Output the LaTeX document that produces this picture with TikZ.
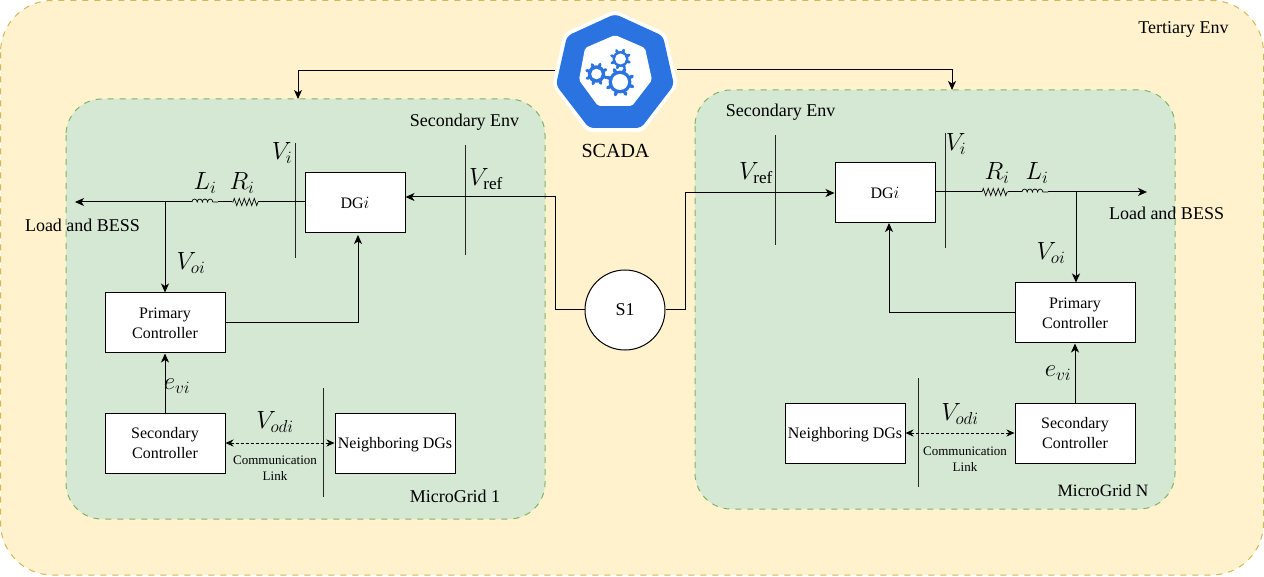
\documentclass[tikz,border=0pt]{standalone}
\usepackage{amsmath}
\usepackage{fontspec}
\setmainfont{Liberation Serif}
\usetikzlibrary{arrows.meta, decorations.pathmorphing}

\definecolor{envyellow}{HTML}{FFF2CC}
\definecolor{envyellowline}{HTML}{D6B656}
\definecolor{envgreen}{HTML}{D5E8D4}
\definecolor{envgreenline}{HTML}{82B366}
\definecolor{scadablue}{HTML}{2A73E0}

\tikzset{
  wire/.style={line width=1pt},
  sigwire/.style={wire, -{Stealth[length=9pt, width=8pt, inset=2.5pt]}},
  commwire/.style={line width=0.9pt, dashed, dash pattern=on 3pt off 2pt, {Stealth[length=8pt, width=7pt, inset=2.5pt]}-{Stealth[length=8pt, width=7pt, inset=2.5pt]}},
  busbar/.style={line width=0.9pt, black!85},
  block/.style={draw, fill=white, line width=1pt, minimum width=120pt, minimum height=60pt, inner sep=0pt, align=center, font=\fontsize{16}{20}\selectfont},
  dgblock/.style={block, minimum width=100pt},
  neighblock/.style={block, text height=13.5pt, text depth=3.5pt},
  envtext/.style={font=\fontsize{18}{21}\selectfont},
  qty/.style={font=\fontsize{24.5}{28}\selectfont, inner sep=0pt},
  linktext/.style={font=\fontsize{13}{16}\selectfont, align=center, inner sep=0pt},
  resistor/.style={line width=0.7pt, decorate, decoration={zigzag, amplitude=3.5pt, segment length=5pt}},
  inductor/.style={line width=0.7pt, decorate, decoration={bumps, amplitude=3pt, segment length=10.4pt}},
}

% one cog of the logo: centre, outer radius, hole radius, tooth width
\newcommand{\cogwheel}[4]{
  \foreach \a in {0,45,...,315} {
    \draw[scadablue, line width=#4, line cap=round] (#1) ++(\a+20:#2*0.7) -- ++(\a+20:#2*0.2);
  }
  \fill[scadablue] (#1) circle [radius=#2*0.76];
  \fill[white] (#1) circle [radius=#3];
}

\begin{document}
\begin{tikzpicture}[x=1pt, y=-1pt]
    \useasboundingbox (0, 0) rectangle (1264, 577);
    % environments
    \draw[envyellowline, fill=envyellow, dashed, dash pattern=on 6pt off 6pt, line width=1pt, rounded corners=52pt] (0.5, 0.5) rectangle (1263.5, 575);
    \draw[envgreenline, fill=envgreen, dashed, dash pattern=on 6pt off 6pt, line width=1pt, rounded corners=36pt] (66, 99) rectangle (545, 519);
    \draw[envgreenline, fill=envgreen, dashed, dash pattern=on 6pt off 6pt, line width=1pt, rounded corners=36pt] (695, 90) rectangle (1175, 509);
    \node[envtext] (tertiary) at (1183.5, 29) {Tertiary Env};
    \node[envtext] (secenvA) at (464.5, 122) {Secondary Env};
    \node[envtext] (secenvB) at (780.5, 112) {Secondary Env};
    \node[envtext] (gridA) at (455, 496) {MicroGrid 1};
    \node[envtext, font=\fontsize{17.3}{21}\selectfont] (gridB) at (1103, 491) {MicroGrid N};

    % SCADA logo
    \coordinate (scadaW) at (555, 71);
    \coordinate (scadaE) at (677, 70);
    \fill[white, rounded corners=5pt] (615, 10) -- (666, 33) -- (678, 85) -- (643, 132) -- (587, 132) -- (552, 85) -- (564, 33) -- cycle;
    \fill[scadablue, rounded corners=5pt] (615, 14) -- (663, 36) -- (674, 85) -- (641, 128) -- (589, 128) -- (556, 85) -- (567, 36) -- cycle;
    \fill[white, rounded corners=2pt] (615, 35) -- (645, 48) -- (652, 80) -- (632, 106) -- (598, 106) -- (579, 80) -- (585, 48) -- cycle;
    \cogwheel{620, 82}{15}{8}{3.4pt}
    \cogwheel{596.5, 74}{11.5}{5.3}{3pt}
    \cogwheel{620.5, 59}{10.5}{5.5}{2.8pt}
    \node[font=\fontsize{20}{24}\selectfont] (scadatext) at (615.5, 151) {SCADA};

    % switch
    \node[draw, fill=white, circle, line width=1pt, minimum size=80pt, inner sep=0pt, font=\fontsize{18}{22}\selectfont] (S1) at (625, 310) {S1};

    % left microgrid
    \node[dgblock] (dgA) at (355, 203) {DG$i$};
    \node[block] (primA) at (165, 323) {Primary\\Controller};
    \node[block] (secA) at (165, 443) {Secondary\\Controller};
    \node[neighblock] (neighA) at (395, 443) {Neighboring DGs};
    \coordinate (busA1) at (295, 143);
    \coordinate (busA2) at (295, 258);
    \coordinate (refA1) at (465, 145);
    \coordinate (refA2) at (465, 255);
    \coordinate (linkA1) at (323, 388);
    \coordinate (linkA2) at (323, 497);
    \coordinate (resA1) at (258, 202);
    \coordinate (resA2) at (232, 202);
    \coordinate (indA1) at (218, 202);
    \coordinate (indA2) at (192, 202);
    \coordinate (tapA) at (165, 202);
    \coordinate (loadA) at (75, 202);
    \draw[busbar] (busA1) -- (busA2);
    \draw[busbar] (refA1) -- (refA2);
    \draw[busbar] (linkA1) -- (linkA2);
    \draw[wire] (dgA.west |- resA1) -- (resA1);
    \draw[resistor] (resA1) -- (resA2);
    \draw[wire] (resA2) -- (indA1);
    \draw[inductor] (indA2) -- (indA1);
    \draw[sigwire] (indA2) -- (loadA);
    \draw[sigwire] (tapA) -- (primA.north);
    \draw[sigwire] (primA.east) -- (358, 323) -- (358, 235);
    \draw[sigwire] (secA.north) -- (primA.south);
    \draw[commwire] (secA.east) -- (neighA.west);
    \draw[sigwire] (S1.west) -- (555, 310) -- (555, 197) -- (dgA.east |- 0, 197);

    % right microgrid
    \node[dgblock] (dgB) at (885, 193) {DG$i$};
    \node[block] (primB) at (1075, 313) {Primary\\Controller};
    \node[block] (secB) at (1075, 433) {Secondary\\Controller};
    \node[neighblock] (neighB) at (845, 433) {Neighboring DGs};
    \coordinate (busB1) at (945, 133);
    \coordinate (busB2) at (945, 248);
    \coordinate (refB1) at (775, 135);
    \coordinate (refB2) at (775, 245);
    \coordinate (linkB1) at (918, 378);
    \coordinate (linkB2) at (918, 487);
    \coordinate (resB1) at (982, 192);
    \coordinate (resB2) at (1008, 192);
    \coordinate (indB1) at (1022, 192);
    \coordinate (indB2) at (1048, 192);
    \coordinate (tapB) at (1076, 192);
    \coordinate (loadB) at (1147, 192);
    \draw[busbar] (busB1) -- (busB2);
    \draw[busbar] (refB1) -- (refB2);
    \draw[busbar] (linkB1) -- (linkB2);
    \draw[wire] (dgB.east |- resB1) -- (resB1);
    \draw[resistor] (resB1) -- (resB2);
    \draw[wire] (resB2) -- (indB1);
    \draw[inductor] (indB1) -- (indB2);
    \draw[sigwire] (indB2) -- (loadB);
    \draw[sigwire] (tapB) -- (tapB |- primB.north);
    \draw[sigwire] (primB.west) -- (889, 313) -- (889, 223);
    \draw[sigwire] (secB.north) -- (primB.south);
    \draw[commwire] (secB.west) -- (neighB.east);
    \draw[sigwire] (S1.east) -- (685, 310) -- (685, 193) -- (dgB.west);

    % SCADA links
    \draw[sigwire] (scadaW) -- (298, 71) -- (298, 99);
    \draw[sigwire] (scadaE) -- (952, 70) -- (952, 90);

    % labels
    \node[envtext] (loadtextA) at (82.5, 225) {Load and BESS};
    \node[envtext] (loadtextB) at (1166.5, 213.5) {Load and BESS};
    \node[qty] (ViA) at (282, 153) {$V_i$};
    \node[qty] (LiA) at (205, 183) {$L_i$};
    \node[qty] (RiA) at (242, 183) {$R_i$};
    \node[qty] (VoiA) at (191, 263) {$V_{oi}$};
    \node[qty] (VrefA) at (486, 179) {$V_{\mathrm{ref}}$};
    \node[qty] (eviA) at (177, 386) {$e_{vi}$};
    \node[qty] (VodiA) at (275, 422) {$V_{odi}$};
    \node[linktext] (linktextA) at (275, 468) {Communication\\Link};
    \node[qty] (ViB) at (956, 144) {$V_i$};
    \node[qty] (RiB) at (997, 173) {$R_i$};
    \node[qty] (LiB) at (1037, 173) {$L_i$};
    \node[qty] (VoiB) at (1051, 253) {$V_{oi}$};
    \node[qty] (VrefB) at (756, 173) {$V_{\mathrm{ref}}$};
    \node[qty] (eviB) at (1058, 373) {$e_{vi}$};
    \node[qty] (VodiB) at (960, 414) {$V_{odi}$};
    \node[linktext] (linktextB) at (965, 459) {Communication\\Link};
\end{tikzpicture}
\end{document}
